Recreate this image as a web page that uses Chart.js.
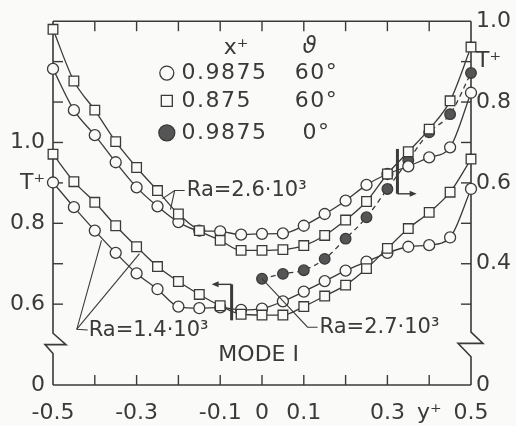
<!DOCTYPE html>
<html>
<head>
<meta charset="utf-8">
<script src="https://cdn.jsdelivr.net/npm/chart.js@4.4.1/dist/chart.umd.min.js"></script>
<style>
  html, body { margin: 0; padding: 0; background: #fafaf8; }
  #wrap { width: 516px; height: 426px; }
</style>
</head>
<body>
<div id="wrap"><canvas id="chart" width="516" height="426"></canvas></div>
<script>
/* =======================
   DATA
======================= */

// y+ positions of the measuring points
const yPlus = [-0.5, -0.45, -0.4, -0.35, -0.3, -0.25, -0.2, -0.15, -0.1, -0.05, 0,
               0.05, 0.1, 0.15, 0.2, 0.25, 0.3, 0.35, 0.4, 0.45, 0.5];
const yPlusRight = [0, 0.05, 0.1, 0.15, 0.2, 0.25, 0.3, 0.35, 0.4, 0.45, 0.5];

// Ra = 2.6e3, theta = 60 deg  (left T+ axis)
const ra26Circles = [1.182, 1.080, 1.018, 0.951, 0.889, 0.842, 0.803, 0.782, 0.780, 0.772, 0.774,
                     0.775, 0.794, 0.823, 0.856, 0.895, 0.922, 0.941, 0.963, 0.988, 1.123];
const ra26Squares = [1.280, 1.152, 1.080, 1.002, 0.938, 0.881, 0.823, 0.782, 0.758, 0.733, 0.733,
                     0.735, 0.745, 0.770, 0.808, 0.854, 0.922, 0.977, 1.033, 1.103, 1.236];

// Ra = 1.4e3, theta = 60 deg  (left T+ axis)
const ra14Circles = [0.901, 0.840, 0.782, 0.727, 0.676, 0.637, 0.594, 0.590, 0.592, 0.586, 0.589,
                     0.607, 0.631, 0.657, 0.683, 0.705, 0.727, 0.742, 0.746, 0.765, 0.885];
const ra14Squares = [0.971, 0.903, 0.852, 0.794, 0.742, 0.693, 0.656, 0.624, 0.596, 0.575, 0.573,
                     0.573, 0.594, 0.620, 0.647, 0.688, 0.738, 0.787, 0.827, 0.877, 0.959];

// Ra = 2.7e3, theta = 0 deg  (right T+ axis)
const ra27Filled = [0.363, 0.375, 0.384, 0.412, 0.462, 0.515, 0.585, 0.656, 0.725, 0.770, 0.872];

// ticks
const xTicks = [-0.5, -0.4, -0.3, -0.2, -0.1, 0, 0.1, 0.2, 0.3, 0.4, 0.5];
const xTickLabels = ['-0.5', '', '-0.3', '', '-0.1', '0', '0.1', '', '0.3', 'y\u207A', '0.5'];
const leftTicks = [0.4, 0.6, 0.7, 0.8, 0.9, 1.0, 1.1, 1.2];
const leftTickLabels = ['0', '0.6', '', '0.8', 'T\u207A', '1.0', '', ''];
const rightTicks = [0.1, 0.3, 0.4, 0.5, 0.6, 0.7, 0.8, 0.9, 1.0];
const rightTickLabels = ['0', '', '0.4', '', '0.6', '', '0.8', 'T\u207A', '1.0'];

// legend
const legendXPlus = ['0.9875', '0.875', '0.9875'];
const legendTheta = ['60\u00B0', '60\u00B0', '0\u00B0'];
const legendMarks = ['circle', 'rect', 'filled'];

/* =======================
   STYLE
======================= */

const INK = '#3a3a3a';
const PAPER = '#fafaf8';
const FONT = 'DejaVu Sans';

function pts(xs, ys) {
    return xs.map((x, i) => ({ x: x, y: ys[i] }));
}

function serie(data, style, axis) {
    const base = {
        data: data,
        yAxisID: axis,
        borderColor: INK,
        borderWidth: 1.3,
        pointBorderColor: INK,
        pointBorderWidth: 1.3,
        pointBackgroundColor: PAPER,
        cubicInterpolationMode: 'monotone',
        clip: false
    };
    if (style === 'circle') return { ...base, pointStyle: 'circle', pointRadius: 5.5 };
    if (style === 'rect') return { ...base, pointStyle: 'rect', pointRadius: 6.8 };
    return { ...base, pointStyle: 'circle', pointRadius: 5.3,
             pointBackgroundColor: '#555', borderDash: [5, 4] };
}

/* =======================
   DRAWING HELPERS
======================= */

function line(ctx, p) {
    ctx.beginPath();
    p.forEach((q, i) => i ? ctx.lineTo(q[0], q[1]) : ctx.moveTo(q[0], q[1]));
    ctx.stroke();
}

function arrowHead(ctx, x, y, dir) {
    ctx.beginPath();
    ctx.moveTo(x, y);
    ctx.lineTo(x - dir * 7, y - 3);
    ctx.lineTo(x - dir * 7, y + 3);
    ctx.closePath();
    ctx.fill();
}

function marker(ctx, kind, x, y) {
    ctx.beginPath();
    if (kind === 'rect') {
        ctx.rect(x - 5.5, y - 5.5, 11, 11);
        ctx.fillStyle = PAPER;
    } else if (kind === 'circle') {
        ctx.arc(x, y, 7, 0, Math.PI * 2);
        ctx.fillStyle = PAPER;
    } else {
        ctx.arc(x, y, 8, 0, Math.PI * 2);
        ctx.fillStyle = '#555';
    }
    ctx.fill();
    ctx.stroke();
}

/* =======================
   PLUGIN: frame, breaks, ticks, notes
======================= */

const figurePlugin = {
    id: 'figure',
    beforeDatasetsDraw(chart) {
        const ctx = chart.ctx;
        const a = chart.chartArea;
        const xs = chart.scales.x, yl = chart.scales.y, yr = chart.scales.y2;

        ctx.save();
        ctx.strokeStyle = INK;
        ctx.lineWidth = 1.6;
        ctx.lineCap = 'butt';

        line(ctx, [[a.left, a.top], [a.right, a.top]]);
        line(ctx, [[a.left, a.bottom], [a.right, a.bottom]]);

        // left axis with break
        const l1 = yl.getPixelForValue(0.528), l2 = yl.getPixelForValue(0.500), l3 = yl.getPixelForValue(0.478);
        line(ctx, [[a.left, a.top], [a.left, l1], [a.left + 13, l2], [a.left - 8, l2], [a.left, l3], [a.left, a.bottom]]);

        // right axis with break
        const r1 = yr.getPixelForValue(0.231), r2 = yr.getPixelForValue(0.203), r3 = yr.getPixelForValue(0.170);
        line(ctx, [[a.right, a.top], [a.right, r1], [a.right + 12, r2], [a.right - 13, r2], [a.right, r3], [a.right, a.bottom]]);

        // inward ticks
        ctx.lineWidth = 1.4;
        xTicks.slice(1, -1).forEach(v => {
            const px = xs.getPixelForValue(v);
            line(ctx, [[px, a.bottom], [px, a.bottom - 10]]);
            line(ctx, [[px, a.top], [px, a.top + 10]]);
        });
        leftTicks.filter(v => v > 0.5).forEach(v => {
            const py = yl.getPixelForValue(v);
            line(ctx, [[a.left, py], [a.left + 10, py]]);
        });
        rightTicks.filter(v => v > 0.2 && v < 0.95).forEach(v => {
            const py = yr.getPixelForValue(v);
            line(ctx, [[a.right, py], [a.right - 10, py]]);
        });
        ctx.restore();
    },
    afterDatasetsDraw(chart) {
        const ctx = chart.ctx;
        const xs = chart.scales.x, yl = chart.scales.y, yr = chart.scales.y2;
        const X = v => xs.getPixelForValue(v);
        const Y = v => yl.getPixelForValue(v);

        ctx.save();
        ctx.strokeStyle = INK;
        ctx.fillStyle = INK;
        ctx.lineWidth = 1.1;

        // leader lines
        line(ctx, [[X(-0.238), Y(0.861)], [X(-0.209), Y(0.881)], [X(-0.185), Y(0.881)]]);
        line(ctx, [[X(-0.219), Y(0.834)], [X(-0.209), Y(0.881)]]);

        line(ctx, [[X(-0.384), Y(0.758)], [X(-0.443), Y(0.538)], [X(-0.417), Y(0.536)]]);
        line(ctx, [[X(-0.293), Y(0.725)], [X(-0.443), Y(0.538)]]);

        line(ctx, [[X(yPlusRight[0]), yr.getPixelForValue(ra27Filled[0])],
                   [X(0.109), Y(0.543)], [X(0.133), Y(0.543)]]);

        // axis arrows
        ctx.lineWidth = 3;
        line(ctx, [[X(-0.0727), Y(0.649)], [X(-0.0727), Y(0.560)]]);
        line(ctx, [[X(0.324), Y(0.984)], [X(0.324), Y(0.873)]]);
        ctx.lineWidth = 1.4;
        line(ctx, [[X(-0.0727), Y(0.649)], [X(-0.115), Y(0.649)]]);
        arrowHead(ctx, X(-0.1205), Y(0.649), -1);
        line(ctx, [[X(0.324), Y(0.873)], [X(0.364), Y(0.873)]]);
        arrowHead(ctx, X(0.370), Y(0.873), 1);

        // labels
        ctx.textBaseline = 'middle';
        ctx.textAlign = 'left';
        ctx.font = '21px "' + FONT + '"';
        ctx.fillText('Ra=2.6\u00B710\u00B3', X(-0.180), Y(0.881));
        ctx.fillText('Ra=1.4\u00B710\u00B3', X(-0.4146), Y(0.5356));
        ctx.fillText('Ra=2.7\u00B710\u00B3', X(0.1377), Y(0.543));
        ctx.textAlign = 'center';
        ctx.font = '22px "' + FONT + '"';
        ctx.fillText('MODE I', X(-0.008), Y(0.474));

        // legend
        ctx.fillText('x\u207A', X(-0.062), Y(1.233));
        ctx.font = 'italic 23px "' + FONT + '"';
        ctx.fillText('\u03D1', X(0.114), Y(1.236));
        const rows = [1.1717, 1.1027, 1.0238];
        ctx.font = '22px "' + FONT + '"';
        ctx.letterSpacing = '1.5px';
        rows.forEach((r, i) => {
            ctx.lineWidth = 1.3;
            marker(ctx, legendMarks[i], X(-0.2277), Y(r));
            ctx.fillStyle = INK;
            ctx.textAlign = 'left';
            ctx.fillText(legendXPlus[i], X(-0.1923), Y(r));
            ctx.textAlign = 'center';
            ctx.fillText(legendTheta[i], X(0.1306), Y(r));
        });
        ctx.restore();
    }
};

/* =======================
   CHART
======================= */

const tickFont = { family: FONT, size: 22 };

new Chart(document.getElementById('chart').getContext('2d'), {
    type: 'line',
    data: {
        datasets: [
            serie(pts(yPlus, ra14Squares), 'rect', 'y'),
            serie(pts(yPlus, ra14Circles), 'circle', 'y'),
            serie(pts(yPlus, ra26Squares), 'rect', 'y'),
            serie(pts(yPlus, ra26Circles), 'circle', 'y'),
            serie(pts(yPlusRight, ra27Filled), 'filled', 'y2')
        ]
    },
    options: {
        responsive: false,
        animation: false,
        layout: { padding: { top: 20, left: 0, right: 0, bottom: 0 } },
        plugins: { legend: { display: false }, tooltip: { enabled: false } },
        scales: {
            x: {
                type: 'linear',
                min: -0.5,
                max: 0.5,
                afterBuildTicks: s => { s.ticks = xTicks.map(v => ({ value: v })); },
                afterFit: s => { s.height = 41; },
                grid: { display: false, drawTicks: false },
                border: { display: false },
                ticks: {
                    autoSkip: false,
                    maxRotation: 0,
                    padding: 15,
                    color: INK,
                    font: tickFont,
                    callback: (v, i) => xTickLabels[i]
                }
            },
            y: {
                position: 'left',
                min: 0.4,
                max: 1.3,
                afterBuildTicks: s => { s.ticks = leftTicks.map(v => ({ value: v })); },
                afterFit: s => { s.width = 53; },
                grid: { display: false, drawTicks: false },
                border: { display: false },
                ticks: {
                    autoSkip: false,
                    padding: 8,
                    color: INK,
                    font: tickFont,
                    callback: (v, i) => leftTickLabels[i]
                }
            },
            y2: {
                position: 'right',
                min: 0.1,
                max: 1.0,
                afterBuildTicks: s => { s.ticks = rightTicks.map(v => ({ value: v })); },
                afterFit: s => { s.width = 45; },
                grid: { display: false, drawTicks: false },
                border: { display: false },
                ticks: {
                    autoSkip: false,
                    padding: 5,
                    color: INK,
                    font: tickFont,
                    callback: (v, i) => rightTickLabels[i]
                }
            }
        }
    },
    plugins: [figurePlugin]
});
</script>
</body>
</html>
